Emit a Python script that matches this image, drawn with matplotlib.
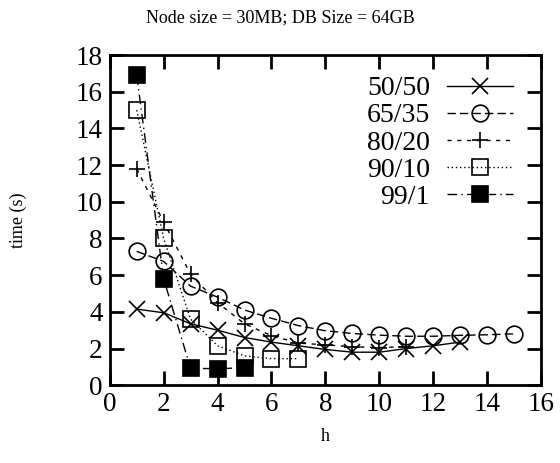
import matplotlib
matplotlib.use("Agg")
from matplotlib import pyplot as plt

plt.rcParams["font.family"] = ["Liberation Serif", "DejaVu Serif"]

H_5050 = [1, 2, 3, 4, 5, 6, 7, 8, 9, 10, 11, 12, 13]
T_5050 = [4.15, 3.95, 3.35, 3.0, 2.6, 2.35, 2.15, 1.95, 1.8, 1.8, 2.0, 2.15, 2.35]

H_6535 = [1, 2, 3, 4, 5, 6, 7, 8, 9, 10, 11, 12, 13, 14, 15]
T_6535 = [7.3, 6.75, 5.4, 4.8, 4.1, 3.65, 3.25, 2.97, 2.82, 2.73, 2.67, 2.67, 2.72, 2.75, 2.8]

H_8020 = [1, 2, 3, 4, 5, 6, 7, 8, 9, 10, 11]
T_8020 = [11.8, 8.9, 6.05, 4.5, 3.35, 2.7, 2.3, 2.2, 2.1, 2.05, 2.1]

H_9010 = [1, 2, 3, 4, 5, 6, 7]
T_9010 = [15.0, 8.0, 3.6, 2.15, 1.6, 1.45, 1.45]

H_991 = [1, 2, 3, 4, 5]
T_991 = [16.9, 5.8, 0.92, 0.9, 0.95]

series = [
    ("50/50", H_5050, T_5050, "x", "-", "none"),
    ("65/35", H_6535, T_6535, "o", (0, (6, 3)), "none"),
    ("80/20", H_8020, T_8020, "+", (0, (3, 4)), "none"),
    ("90/10", H_9010, T_9010, "s", (0, (1, 2)), "none"),
    ("99/1", H_991, T_991, "s", (0, (7, 3, 1, 3)), "black"),
]

fig = plt.figure(figsize=(5.6, 4.63), dpi=100)
ax = fig.add_axes([0.196, 0.168, 0.770, 0.713])

for label, hs, ts, marker, ls, face in series:
    ax.plot(hs, ts, color="black", linestyle=ls, linewidth=1.0,
            marker=marker, markersize=12, markerfacecolor=face,
            markeredgecolor="black", markeredgewidth=1.2, label=label)

ax.set_xlim(0, 16)
ax.set_ylim(0, 18)
ax.set_xticks(range(0, 17, 2))
ax.set_yticks(range(0, 19, 2))
ax.tick_params(direction="in", length=10, width=2, top=True, right=True,
               labelsize=19.5, pad=5)
for sp in ax.spines.values():
    sp.set_linewidth(2)

ax.set_xlabel("h", fontsize=13, labelpad=8)
ax.set_ylabel("time (s)", fontsize=13)
ax.yaxis.set_label_coords(-0.193, 0.5)
fig.suptitle("Node size = 30MB; DB Size = 64GB", fontsize=13, x=0.5, y=0.98)

ax.legend(loc="upper right", bbox_to_anchor=(1.0, 1.021), markerfirst=False,
          frameon=False, fontsize=20, handlelength=2.4, labelspacing=0.06,
          numpoints=1, borderaxespad=0.6, handletextpad=0.6)

fig.savefig("out.png", dpi=100)
